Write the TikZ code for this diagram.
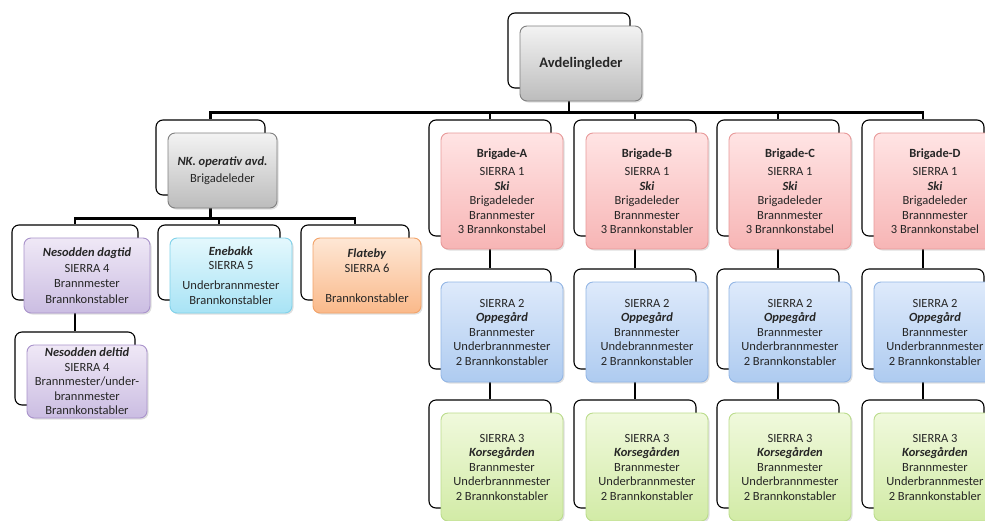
\documentclass[tikz,border=0pt]{standalone}
\usepackage{fontspec}
\setmainfont{Carlito}
\usetikzlibrary{shadows,backgrounds}

\definecolor{greyT}{HTML}{F3F3F3}
\definecolor{greyB}{HTML}{BCBCBC}
\definecolor{greyD}{HTML}{808080}
\definecolor{redT}{HTML}{FFE4E4}
\definecolor{redB}{HTML}{F7B5B5}
\definecolor{redD}{HTML}{E89A9A}
\definecolor{blueT}{HTML}{DEEAFB}
\definecolor{blueB}{HTML}{AECBF0}
\definecolor{blueD}{HTML}{93B6E5}
\definecolor{greenT}{HTML}{F0F9DC}
\definecolor{greenB}{HTML}{D2EBA6}
\definecolor{greenD}{HTML}{BBDC8C}
\definecolor{purpleT}{HTML}{EFE8F6}
\definecolor{purpleB}{HTML}{CBBDE2}
\definecolor{purpleD}{HTML}{A993CB}
\definecolor{cyanT}{HTML}{E4F8FD}
\definecolor{cyanB}{HTML}{A8E3F5}
\definecolor{cyanD}{HTML}{80D2EA}
\definecolor{orangeT}{HTML}{FEE7D5}
\definecolor{orangeB}{HTML}{FAB98A}
\definecolor{orangeD}{HTML}{F2A369}

\begin{document}
\begin{tikzpicture}[x=1pt, y=-1pt,
  every node/.style={font=\fontsize{12.5}{14.5}\selectfont, align=center, text=black!85},
  back/.style n args={2}{draw=black, line width=1.1pt, fill=white, rounded corners=7pt,
    minimum width=#1, minimum height=#2, inner sep=0pt},
  card/.style n args={3}{draw=#3D, line width=0.9pt, top color=#3T, bottom color=#3B,
    rounded corners=7pt, minimum width=#1, minimum height=#2, inner sep=0pt,
    drop shadow={opacity=0.25, shadow xshift=1.5pt, shadow yshift=-1.5pt}},
  conn/.style={line width=2.4pt, black}]

\useasboundingbox (0,0) rectangle (985,520);
\clip (0,0) rectangle (985,520);

% --- Top: Avdelingleder ---
\node[back={122}{75}] (avd) at (569,50.5) {};
\node[card={122}{75}{grey}] (avdf) at ([shift={(12,13)}]avd) {\fontsize{14.5}{16}\selectfont\textbf{Avdelingleder}};

% --- NK. operativ avd. and its stations ---
\node[back={109}{75}] (nk) at (210.5,157.5) {};
\node[card={109}{75}{grey}] (nkf) at ([shift={(12,13)}]nk) {\textbf{\textit{NK. operativ avd.}}\\[3pt] Brigadeleder};

\node[back={126}{75}] (nesd) at (75,262.5) {};
\node[card={126}{75}{purple}] (nesdf) at ([shift={(12,13)}]nesd) {\textbf{\textit{Nesodden dagtid}}\\[1pt] SIERRA 4\\[1pt] Brannmester\\[1pt] Brannkonstabler};

\node[back={122}{75}] (ene) at (219,262.5) {};
\node[card={122}{75}{cyan}] (enef) at ([shift={(12,13)}]ene) {\textbf{\textit{Enebakk}}\\ SIERRA 5\\[5pt] Underbrannmester\\[1pt] Brannkonstabler};

\node[back={108}{75}] (fla) at (355,262.5) {};
\node[card={108}{75}{orange}] (flaf) at ([shift={(12,13)}]fla) {\textbf{\textit{Flateby}}\\ SIERRA 6\\[1pt] \mbox{}\\ Brannkonstabler};

\node[back={120}{73}] (nest) at (75,368.5) {};
\node[card={120}{73}{purple}] (nestf) at ([shift={(12,13)}]nest) {\textbf{\textit{Nesodden deltid}}\\ SIERRA 4\\ Brannmester/under-\\ brannmester\\ Brannkonstabler};

% --- Brigades A-D with SIERRA 1, 2 and 3 ---
\foreach \c/\x/\kb/\ub in {A/490/Brannkonstabel/Underbrannmester,
    B/635/Brannkonstabler/Undebrannmester,
    C/778/Brannkonstabel/Underbrannmester,
    D/923/Brannkonstabel/Underbrannmester} {
  \node[back={122}{116}] (br\c) at (\x,178) {};
  \node[card={122}{116}{red}] (brf\c) at ([shift={(12,13)}]br\c)
    {\textbf{Brigade-\c}\\[4pt] SIERRA 1\\ \textbf{\textit{Ski}}\\ Brigadeleder\\ Brannmester\\ 3 \kb};
  \node[back={122}{100}] (sa\c) at (\x,319) {};
  \node[card={122}{100}{blue}] (saf\c) at ([shift={(12,13)}]sa\c)
    {SIERRA 2\\ \textbf{\textit{Oppegård}}\\ Brannmester\\ \ub\\ 2 Brannkonstabler};
  \node[back={122}{108}] (sb\c) at (\x,454) {};
  \node[card={122}{108}{green}] (sbf\c) at ([shift={(12,13)}]sb\c)
    {SIERRA 3\\ \textbf{\textit{Korsegården}}\\ Brannmester\\ Underbrannmester\\ 2 Brannkonstabler};
}

% --- Connectors (behind the boxes) ---
\begin{pgfonlayer}{background}
  \draw[conn] (avd.south) -- ++(0,24) coordinate (bus);
  \draw[conn] (bus) -| (nk.north);
  \foreach \c in {A,B,C,D} {
    \draw[conn] (bus) -| (br\c.north);
    \draw[conn] (br\c.south) -- (sa\c.north);
    \draw[conn] (sa\c.south) -- (sb\c.north);
  }
  \draw[conn] (nk.south) -- ++(0,23) coordinate (nkbus);
  \draw[conn] (nkbus) -| (nesd.north);
  \draw[conn] (nkbus) -| (ene.north);
  \draw[conn] (nkbus) -| (fla.north);
  \draw[conn] (nesd.south) -- (nest.north);
\end{pgfonlayer}

\end{tikzpicture}
\end{document}
